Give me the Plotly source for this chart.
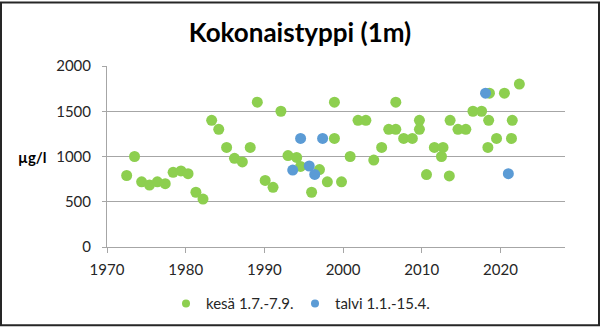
import plotly.graph_objects as go

# --- data ---
kesa_year = [1972.5, 1973.5, 1974.4, 1975.4, 1976.4, 1977.4, 1978.4, 1979.4, 1980.3, 1981.3,
             1982.2, 1983.3, 1984.2, 1985.2, 1986.2, 1987.2, 1988.2, 1989.1, 1990.1, 1991.1,
             1992.1, 1993.0, 1994.1, 1994.6, 1996.0, 1997.0, 1998.0, 1998.9, 1998.9, 1999.8,
             2000.9, 2001.9, 2002.9, 2003.9, 2004.9, 2005.8, 2006.7, 2006.7, 2007.7, 2008.8,
             2009.7, 2009.7, 2010.6, 2011.6, 2012.7, 2012.5, 2013.5, 2013.6, 2014.6, 2015.6,
             2016.5, 2017.6, 2018.6, 2018.5, 2018.4, 2019.5, 2020.5, 2021.5, 2021.4, 2022.4]
kesa_value = [790, 1000, 720, 685, 720, 700, 825, 840, 810, 605,
              530, 1400, 1300, 1100, 980, 940, 1100, 1600, 735, 660,
              1500, 1010, 990, 890, 605, 855, 720, 1600, 1200, 720,
              1000, 1400, 1400, 960, 1100, 1300, 1300, 1600, 1200, 1200,
              1400, 1300, 800, 1100, 1100, 1000, 785, 1400, 1300, 1300,
              1500, 1500, 1700, 1400, 1100, 1200, 1700, 1400, 1200, 1800]

talvi_year = [1993.6, 1994.6, 1995.7, 1996.4, 1997.4, 2018.1, 2021.0]
talvi_value = [850, 1200, 895, 802, 1200, 1700, 810]

y_ticks = [0, 500, 1000, 1500, 2000]
x_ticks = [1970, 1980, 1990, 2000, 2010, 2020]

series_names = ["kesä 1.7.-7.9.", "talvi 1.1.-15.4."]
series_colors = ["#8DCF4F", "#5B9BD5"]

W, H = 600, 332
L, R, T, B = 107, 565, 66, 251

def px_x(p):
    return (p - L) / (R - L)

def px_y(p):
    return (B - p) / (B - T)

font_family = "Lato, 'Open Sans', sans-serif"

fig = go.Figure()
fig.add_trace(go.Scatter(x=kesa_year, y=kesa_value, mode="markers", name=series_names[0],
                         showlegend=False,
                         marker=dict(color=series_colors[0], size=11, line=dict(width=0))))
fig.add_trace(go.Scatter(x=talvi_year, y=talvi_value, mode="markers", name=series_names[1],
                         showlegend=False,
                         marker=dict(color=series_colors[1], size=11, line=dict(width=0))))
# legend-only entries (smaller legend symbols)
for nm, col in zip(series_names, series_colors):
    fig.add_trace(go.Scatter(x=[None], y=[None], mode="markers", name=nm, showlegend=True,
                             marker=dict(color=col, size=8, line=dict(width=0))))
# empty spacer entry so the last legend label is not clipped
fig.add_trace(go.Scatter(x=[None], y=[None], mode="markers", name="\u00a0", showlegend=True,
                         hoverinfo="skip",
                         marker=dict(color="rgba(0,0,0,0)", size=1, line=dict(width=0))))

fig.update_layout(
    width=W, height=H,
    margin=dict(l=L, r=W - R, t=T, b=H - B, pad=0),
    paper_bgcolor="white", plot_bgcolor="white",
    font=dict(family=font_family, size=15, color="#262626"),
    title=dict(text="<b>Kokonaistyppi (1m)</b>", x=0.5, xanchor="center",
               y=1 - 33 / H, yanchor="middle", font=dict(size=26, color="#000000")),
    showlegend=True,
    legend=dict(orientation="h", x=px_x(166), xanchor="left", y=px_y(309), yanchor="middle",
                font=dict(size=15, color="#262626"), itemwidth=30, entrywidth=84,
                entrywidthmode="pixels", tracegroupgap=0, bgcolor="rgba(0,0,0,0)"),
    xaxis=dict(range=[1970, 2028.2], tickvals=x_ticks, showgrid=False, zeroline=False,
               showline=True, linecolor="#A6A6A6", linewidth=1,
               ticks="outside", ticklen=5, tickcolor="#A6A6A6", ticklabelstandoff=4,
               tickfont=dict(size=15, color="#262626")),
    yaxis=dict(range=[0, 2000], tickvals=y_ticks, showgrid=True, gridcolor="#A6A6A6",
               gridwidth=1, zeroline=False, showline=True, linecolor="#A6A6A6", linewidth=1,
               ticks="outside", ticklen=4, tickcolor="#A6A6A6", ticklabelstandoff=8,
               tickfont=dict(size=15, color="#262626")),
    annotations=[dict(text="<b>µg/l</b>", xref="paper", yref="y", x=px_x(32), y=1000,
                      xanchor="center", yanchor="middle", showarrow=False,
                      font=dict(size=15, color="#000000"))],
    shapes=[dict(type="rect", xref="paper", yref="paper",
                 x0=px_x(1), x1=px_x(W - 1), y0=px_y(H - 1), y1=px_y(1),
                 line=dict(color="#262626", width=2), fillcolor="rgba(0,0,0,0)", layer="above")],
)

fig.write_html("out.html")
